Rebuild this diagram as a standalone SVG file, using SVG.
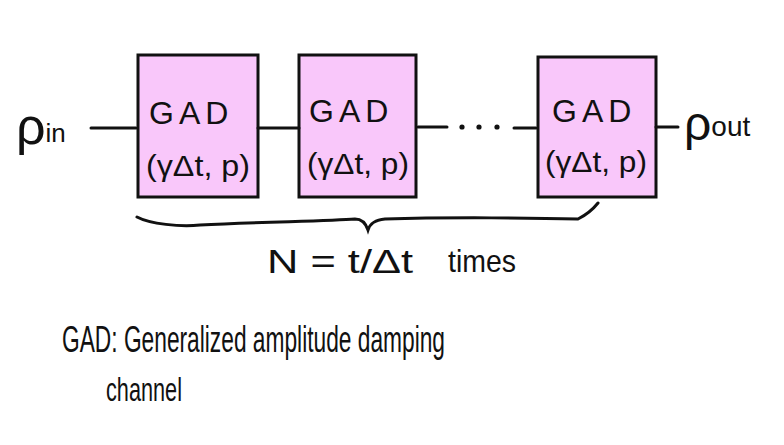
<svg xmlns="http://www.w3.org/2000/svg" width="784" height="445" viewBox="0 0 784 445">
<style>
.box{fill:#f9c7fa;stroke:#111;stroke-width:3}
.ln{stroke:#111;stroke-width:3;fill:none;stroke-linecap:round}
.t{font-family:"Liberation Sans",Arial,sans-serif;fill:#111}
.g{font-size:32px;letter-spacing:5px}
.p{font-size:29px}
</style>
<rect width="784" height="445" fill="#fff"/>
<g id="rho_in"><text class="t" x="16" y="144" font-size="52">ρ<tspan font-size="26" dy="-2">in</tspan></text></g>
<g id="gad1">
<rect class="box" x="138" y="55" width="120" height="142"/>
<text class="t g" x="149" y="124">GAD</text>
<text class="t p" x="146" y="176" textLength="104" lengthAdjust="spacingAndGlyphs">(γΔt, p)</text>
</g>
<g id="gad2">
<rect class="box" x="299" y="55" width="117" height="142"/>
<text class="t g" x="309" y="122">GAD</text>
<text class="t p" x="307" y="174" textLength="102" lengthAdjust="spacingAndGlyphs">(γΔt, p)</text>
</g>
<g id="gad3">
<rect class="box" x="538" y="57" width="118" height="140"/>
<text class="t g" x="552" y="122">GAD</text>
<text class="t p" x="545" y="172" textLength="102" lengthAdjust="spacingAndGlyphs">(γΔt, p)</text>
</g>
<g id="rho_out"><text class="t" x="684" y="140" font-size="48">ρ<tspan font-size="28" dy="-4">out</tspan></text></g>
<g id="connectors">
<line class="ln" x1="91" y1="128" x2="136" y2="128"/>
<line class="ln" x1="258" y1="128" x2="299" y2="128"/>
<line class="ln" x1="418" y1="127" x2="447" y2="127"/>
<circle cx="462" cy="127" r="2.6" fill="#111"/>
<circle cx="479" cy="127" r="2.6" fill="#111"/>
<circle cx="497" cy="127" r="2.6" fill="#111"/>
<line class="ln" x1="514" y1="128" x2="536" y2="128"/>
<line class="ln" x1="656" y1="127" x2="678" y2="127"/>
</g>
<g id="brace">
<path class="ln" d="M137,217 C150,224 180,227 200,225 C260,222 330,221 355,219 C362,219 366,224 368,230 C370,224 374,220 385,219 C450,217 540,218 578,219 C588,214 594,208 598,203"/>
<text class="t" x="267" y="273" font-size="34" textLength="146" lengthAdjust="spacingAndGlyphs">N = t/Δt</text>
<text class="t" x="448" y="272" font-size="32" textLength="68" lengthAdjust="spacingAndGlyphs">times</text>
</g>
<g id="legend">
<text class="t" x="62" y="352" font-size="36" textLength="383" lengthAdjust="spacingAndGlyphs">GAD: Generalized amplitude damping</text>
<text class="t" x="106" y="401" font-size="34" textLength="76" lengthAdjust="spacingAndGlyphs">channel</text>
</g>
</svg>
